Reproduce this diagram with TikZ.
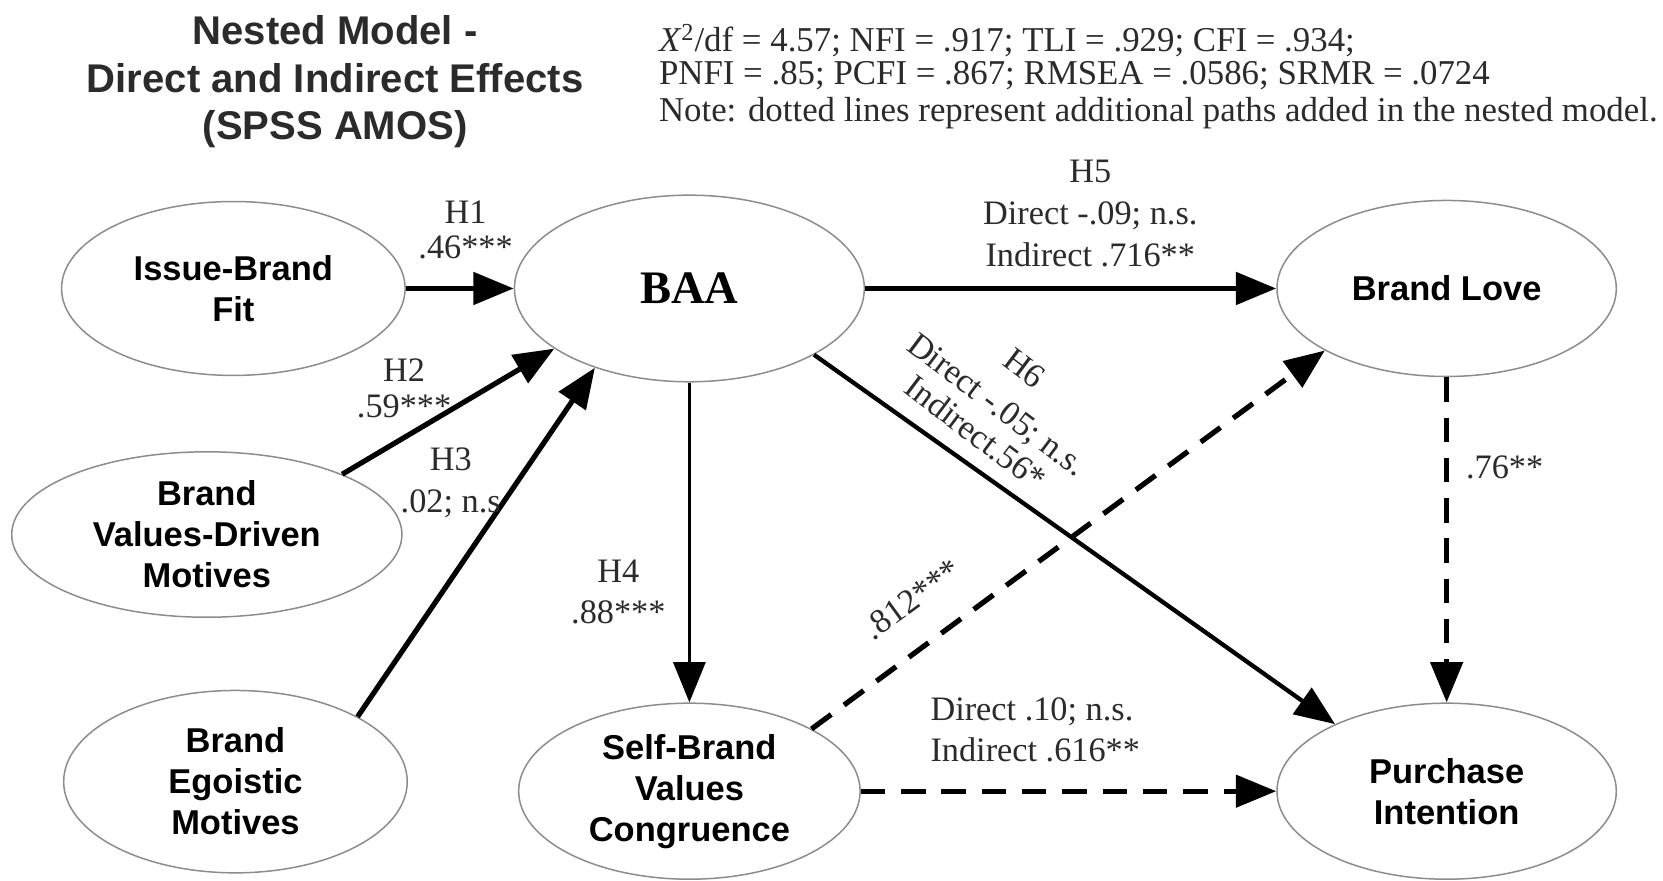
\documentclass[tikz,border=0pt]{standalone}
\usepackage{fontspec}
\setmainfont{Liberation Serif}
\setsansfont{Liberation Sans}
\usetikzlibrary{arrows.meta,shapes.geometric}

\definecolor{inkgray}{HTML}{2B2B2B}
\definecolor{rimgray}{HTML}{8C8C8C}

\begin{document}
\begin{tikzpicture}[x=0.02cm,y=-0.02cm,
  construct/.style={ellipse, draw=rimgray, line width=0.8pt, fill=white,
    inner sep=0pt, align=center, text=black,
    font=\sffamily\bfseries\fontsize{18.5}{22}\selectfont},
  lbl/.style={inner sep=0pt, align=center, text=inkgray,
    font=\rmfamily\fontsize{18.4}{22}\selectfont},
  fitline/.style={lbl, anchor=base west, font=\rmfamily\fontsize{18.7}{22}\selectfont},
  effect/.style={draw=black, line width=#1,
    -{Triangle[length=0.76cm,width=0.6cm]}},
  extra/.style={effect=#1, dash pattern=on 0.46cm off 0.3cm}
]
% canvas
\fill[white] (0,0) rectangle (1568,830);
\useasboundingbox (0,0) rectangle (1568,830);

% heading
\node[align=center, text=inkgray, inner sep=0pt,
  font=\sffamily\bfseries\fontsize{21.5}{25.5}\selectfont] (title) at (316,77)
  {Nested Model -\\Direct and Indirect Effects\\(SPSS AMOS)};

% fit indices
\node[fitline] (fit1) at (621,49)
  {\textit{X}\textsuperscript{2}/df = 4.57; NFI = .917; TLI = .929; CFI = .934;};
\node[fitline] (fit2) at (621,80)
  {PNFI = .85; PCFI = .867; RMSEA = .0586; SRMR = .0724};
\node[fitline] (fit3) at (621,115)
  {Note: dotted lines represent additional paths added in the nested model.};

% constructs
\node[construct, minimum width=6.48cm, minimum height=3.28cm] (ibf) at (220,272) {Issue-Brand\\Fit};
\node[construct, minimum width=6.6cm, minimum height=3.52cm,
  font=\rmfamily\bfseries\fontsize{25}{30}\selectfont] (baa) at (650,272) {BAA};
\node[construct, minimum width=7.36cm, minimum height=3.12cm] (bvdm) at (195,504) {Brand\\Values-Driven\\Motives};
\node[construct, minimum width=6.48cm, minimum height=3.44cm] (bem) at (222,737) {Brand\\Egoistic\\Motives};
\node[construct, minimum width=6.44cm, minimum height=3.32cm] (sbvc) at (650,746) {Self-Brand\\Values\\Congruence};
\node[construct, minimum width=6.4cm, minimum height=3.32cm] (love) at (1364,272) {Brand Love};
\node[construct, minimum width=6.4cm, minimum height=3.32cm] (pi) at (1364,746) {Purchase\\Intention};

% hypothesised paths
\draw[effect=3pt] (ibf) -- (baa);
\draw[effect=2.8pt] (bvdm.24) -- (baa.204);
\draw[effect=2.8pt] (bem.28) -- (baa.220);
\draw[effect=2pt] (baa) -- (sbvc);
\draw[effect=3pt] (baa) -- (love);
\draw[effect=2.3pt] (baa.332) -- (pi.149);

% paths added in the nested model
\draw[extra=2.8pt] (sbvc.27) -- (love.207);
\draw[extra=2.8pt] (sbvc) -- (pi);
\draw[extra=2.8pt] (love) -- (pi);

% path coefficients
\node[lbl, font=\rmfamily\fontsize{18.4}{18.7}\selectfont] (l1) at (439,217) {H1\\.46***};
\node[lbl, font=\rmfamily\fontsize{18.4}{19.2}\selectfont] (l2) at (381,366) {H2\\.59***};
\node[lbl, font=\rmfamily\fontsize{18.4}{22.5}\selectfont] (l3) at (425,455) {H3\\.02; n.s};
\node[lbl] (l4) at (583,558) {H4\\.88***};
\node[lbl, font=\rmfamily\fontsize{18.4}{22.6}\selectfont] (l5) at (1028,201) {H5\\Direct -.09; n.s.\\Indirect .716**};
\node[lbl, rotate=-37, font=\rmfamily\fontsize{18.4}{19.2}\selectfont] (l6) at (943,378)
  {H6\\[5pt]Direct -.05; n.s.\\Indirect.56*};
\node[lbl, rotate=36] (l7) at (860,565) {.812***};
\node[lbl, align=left, anchor=west] (l8) at (877,688) {Direct .10; n.s.\\Indirect .616**};
\node[lbl, anchor=west] (l9) at (1382,441) {.76**};
\end{tikzpicture}
\end{document}
